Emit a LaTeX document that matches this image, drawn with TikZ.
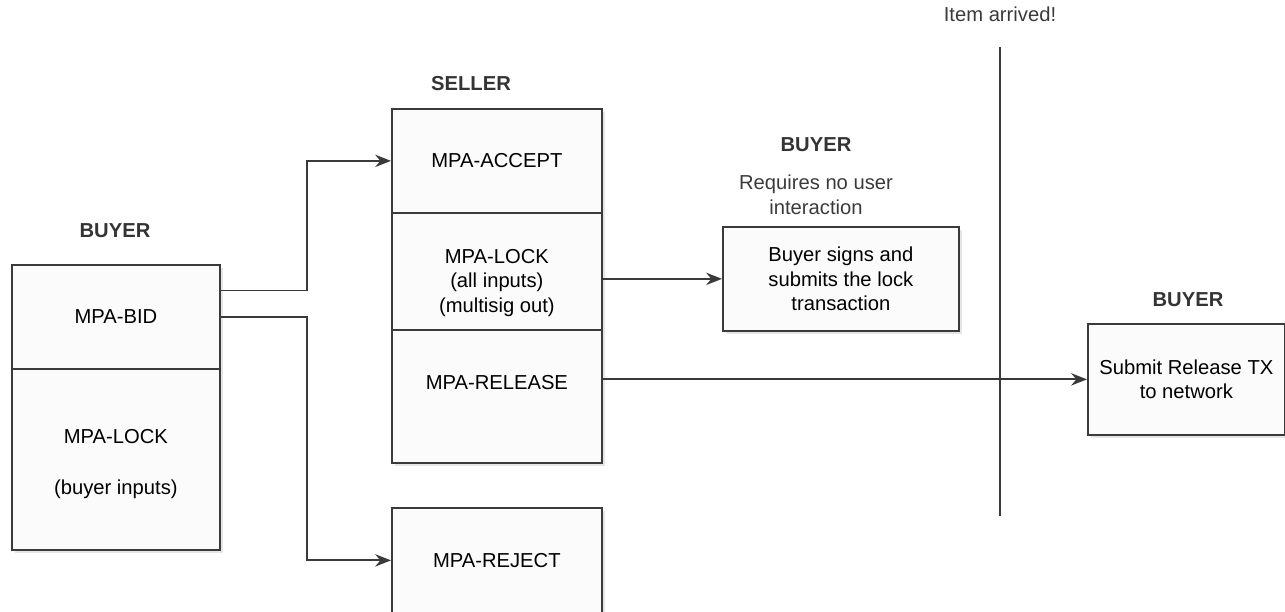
\documentclass[tikz,border=0pt]{standalone}
\usepackage{fontspec}
\setmainfont{Liberation Sans}
\usetikzlibrary{arrows.meta,shadows,calc}
\definecolor{linegray}{HTML}{3A3A3A}
\definecolor{boxfill}{HTML}{FBFBFB}
\newcommand{\mpafont}{\fontsize{11.5}{14}\selectfont}
\tikzset{
  box/.style={draw=linegray, fill=boxfill, line width=1pt, align=center,
    anchor=north west, inner sep=2pt, font=\mpafont,
    drop shadow={opacity=0.2, shadow xshift=2pt, shadow yshift=-2pt}},
  role/.style={font=\mpafont\bfseries, text=linegray!90!black},
  note/.style={font=\mpafont, text=linegray, align=center},
  flow/.style={draw=linegray, line width=1pt, -{Stealth[length=9pt,width=7pt]}},
}
\begin{document}
\begin{tikzpicture}[x=0.02cm,y=-0.02cm]
\useasboundingbox (0,0) rectangle (1285,612);
% buyer side
\node[role] (buyerlbl) at (115,231) {BUYER};
\node[box, minimum width=4.16cm, minimum height=2.08cm] (bid) at (11,264) {MPA-BID};
\node[box, minimum width=4.16cm, minimum height=3.62cm] (lockb) at (11,368) {\rule{0pt}{13.5pt}MPA-LOCK\\[15pt](buyer inputs)};
% seller side
\node[role] (sellerlbl) at (471,84) {SELLER};
\node[box, minimum width=4.2cm, minimum height=2.08cm] (accept) at (391,108) {MPA-ACCEPT};
\node[box, minimum width=4.2cm, minimum height=2.34cm] (lock) at (391,212) {\rule{0pt}{21pt}MPA-LOCK\\(all inputs)\\(multisig out)};
\node[box, minimum width=4.2cm, minimum height=2.66cm, text depth=15.5pt] (release) at (391,329) {MPA-RELEASE};
\node[box, minimum width=4.2cm, minimum height=2.1cm] (reject) at (391,507) {MPA-REJECT};
% buyer, automatic
\node[role] (buyerauto) at (816,145) {BUYER};
\node[note] (autonote) at (816,195) {Requires no user\\interaction};
\node[box, minimum width=4.72cm, minimum height=2.08cm] (sign) at (722,226) {Buyer signs and\\submits the lock\\transaction};
% item arrived
\node[note] (arrived) at (1000,14) {Item arrived!};
\coordinate (arrtop) at (1000,47);
\coordinate (arrbot) at (1000,516);
\draw[draw=linegray, line width=1pt] (arrtop) -- (arrbot);
% buyer, release
\node[role] (buyerrel) at (1188,300) {BUYER};
\node[box, minimum width=3.94cm, minimum height=2.22cm] (submit) at (1087,323) {Submit Release TX\\to network};
% connectors
\coordinate (bidup) at ($(bid.north east)!0.25!(bid.south east)$);
\draw[flow] (bidup) -- ++(86,0) |- (accept.west);
\draw[flow] (bid.east) -- ++(86,0) |- (reject.west);
\draw[flow] (lock.east |- sign.west) -- (sign.west);
\draw[flow] (release.east |- submit.west) -- (submit.west);
\end{tikzpicture}
\end{document}
